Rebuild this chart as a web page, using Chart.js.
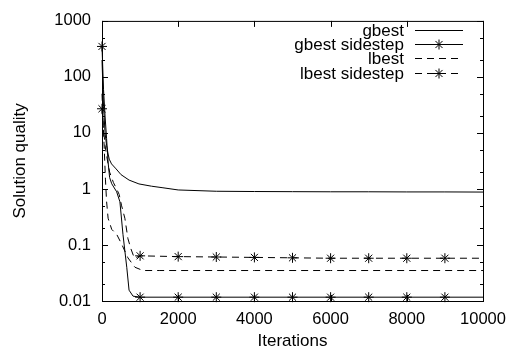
<!DOCTYPE html>
<html>
<head>
<meta charset="utf-8">
<script src="https://cdn.jsdelivr.net/npm/chart.js@4"></script>
<style>
  html, body { margin: 0; padding: 0; background: #fff; }
  #wrap { width: 515px; height: 352px; }
</style>
</head>
<body>
<div id="wrap"><canvas id="chart" width="515" height="352"></canvas></div>
<script>
// Data
const gbestIter = [0, 40, 80, 120, 160, 190, 250, 370, 500, 710, 970, 1300, 1600, 2000, 3000, 4000, 5000, 6000, 7000, 8000, 9000, 10000];
const gbestVals = [200, 30, 10, 6, 4.2, 3.4, 2.8, 2.28, 1.8, 1.44, 1.23, 1.12, 1.05, 0.96, 0.91, 0.9, 0.895, 0.89, 0.89, 0.885, 0.885, 0.88];

const gbestSideIter = [0, 40, 80, 120, 160, 200, 255, 385, 470, 550, 650, 710, 815, 1000, 2000, 3000, 4000, 5000, 6000, 7000, 8000, 9000, 10000];
const gbestSideVals = [350, 60, 20, 8, 3, 1.6, 1.24, 0.89, 0.59, 0.155, 0.04, 0.0156, 0.0122, 0.0117, 0.0117, 0.0117, 0.0117, 0.0117, 0.0117, 0.0117, 0.0117, 0.0117, 0.0117];

const lbestIter = [0, 30, 60, 90, 120, 160, 255, 385, 515, 680, 865, 1075, 1500, 2000, 4000, 6000, 8000, 10000];
const lbestVals = [50, 15, 5, 1.5, 0.6, 0.3, 0.19, 0.155, 0.104, 0.059, 0.04, 0.035, 0.035, 0.035, 0.035, 0.035, 0.035, 0.035];

const lbestSideIter = [0, 40, 80, 120, 160, 200, 300, 385, 450, 515, 600, 680, 760, 850, 1000, 2000, 3000, 4000, 5000, 6000, 7000, 8000, 9000, 10000];
const lbestSideVals = [27, 12, 6, 4, 2.8, 2.0, 1.3, 1.0, 0.8, 0.5, 0.3, 0.13, 0.085, 0.058, 0.064, 0.062, 0.061, 0.06, 0.059, 0.058, 0.058, 0.058, 0.058, 0.058];

const seriesNames = ['gbest', 'gbest sidestep', 'lbest', 'lbest sidestep'];
const xTicks = [0, 2000, 4000, 6000, 8000, 10000];
const xTickLabels = ['0', '2000', '4000', '6000', '8000', '10000'];
const yTicks = [0.01, 0.1, 1, 10, 100, 1000];
const yTickLabels = ['0.01', '0.1', '1', '10', '100', '1000'];

const FONT = "'Liberation Sans', Arial, sans-serif";
const AREA = { left: 102, right: 483, top: 16, bottom: 301 };

function pts(xs, ys) {
    return xs.map((x, i) => ({ x, y: ys[i] }));
}

// markers every 1000 iterations, not on the right edge
function markerRadius(ctx) {
    const p = ctx.raw;
    return p && p.x % 1000 === 0 && p.x < 10000 ? 5 : 0;
}

function makeSet(label, data, dashed, marker) {
    return {
        label,
        data,
        borderColor: '#000',
        borderWidth: 1,
        borderDash: dashed ? [7, 5] : [],
        pointStyle: 'star',
        pointRadius: marker ? markerRadius : 0,
        pointBorderColor: '#000',
        pointBorderWidth: 1,
        pointBackgroundColor: '#000',
        hasMarker: marker,
        tension: 0,
        clip: false
    };
}

// frame + inward ticks like gnuplot
const framePlugin = {
    id: 'frame',
    afterDraw(chart) {
        const { ctx, chartArea: a, scales } = chart;
        ctx.save();
        ctx.strokeStyle = '#000';
        ctx.lineWidth = 1;
        ctx.strokeRect(a.left + 0.5, a.top + 0.5, a.right - a.left, a.bottom - a.top);
        ctx.beginPath();
        xTicks.forEach(v => {
            const px = Math.round(scales.x.getPixelForValue(v)) + 0.5;
            ctx.moveTo(px, a.bottom); ctx.lineTo(px, a.bottom - 6);
            ctx.moveTo(px, a.top); ctx.lineTo(px, a.top + 6);
        });
        for (let d = -2; d <= 3; d++) {
            [1, 2, 5].forEach(m => {
                const v = m * Math.pow(10, d);
                if (v > 1000) return;
                const len = m === 1 ? 6 : 3;
                const py = Math.round(scales.y.getPixelForValue(v)) + 0.5;
                ctx.moveTo(a.left, py); ctx.lineTo(a.left + len, py);
                ctx.moveTo(a.right, py); ctx.lineTo(a.right - len, py);
            });
        }
        ctx.stroke();
        ctx.restore();
    }
};

// legend inside the top right, text right aligned, sample on the right
const keyPlugin = {
    id: 'key',
    afterDatasetsDraw(chart) {
        const { ctx } = chart;
        ctx.save();
        ctx.font = '17px ' + FONT;
        ctx.fillStyle = '#000';
        ctx.textAlign = 'right';
        ctx.textBaseline = 'middle';
        chart.data.datasets.forEach((ds, i) => {
            const y = Math.round(30 + i * 14.2) + 0.5;
            ctx.fillText(ds.label, 404, y + 1);
            ctx.strokeStyle = '#000';
            ctx.lineWidth = 1;
            ctx.setLineDash(ds.borderDash);
            ctx.beginPath();
            ctx.moveTo(415, y); ctx.lineTo(463, y);
            ctx.stroke();
            ctx.setLineDash([]);
            if (ds.hasMarker) {
                Chart.helpers.drawPoint(ctx, { pointStyle: 'star', radius: 5, borderWidth: 1 }, 439, y);
            }
        });
        ctx.restore();
    }
};

new Chart(document.getElementById('chart'), {
    type: 'line',
    data: {
        datasets: [
            makeSet(seriesNames[0], pts(gbestIter, gbestVals), false, false),
            makeSet(seriesNames[1], pts(gbestSideIter, gbestSideVals), false, true),
            makeSet(seriesNames[2], pts(lbestIter, lbestVals), true, false),
            makeSet(seriesNames[3], pts(lbestSideIter, lbestSideVals), true, true)
        ]
    },
    options: {
        responsive: false,
        animation: false,
        layout: { padding: { left: 0, top: AREA.top, right: 515 - AREA.right, bottom: 0 } },
        plugins: { legend: { display: false }, tooltip: { enabled: false } },
        scales: {
            x: {
                type: 'linear',
                min: 0,
                max: 10000,
                afterBuildTicks: s => { s.ticks = xTicks.map(v => ({ value: v })); },
                afterFit: s => { s.height = 352 - AREA.bottom; },
                grid: { display: false, drawTicks: false },
                border: { display: false },
                ticks: {
                    color: '#000',
                    font: { family: FONT, size: 16.5 },
                    padding: 9,
                    maxRotation: 0,
                    callback: v => xTickLabels[xTicks.indexOf(v)]
                },
                title: { display: true, text: 'Iterations', color: '#000', font: { family: FONT, size: 17 }, padding: { top: 0, bottom: 0 } }
            },
            y: {
                type: 'logarithmic',
                min: 0.01,
                max: 1000,
                afterBuildTicks: s => { s.ticks = yTicks.map(v => ({ value: v })); },
                afterFit: s => { s.width = AREA.left; },
                grid: { display: false, drawTicks: false },
                border: { display: false },
                ticks: {
                    color: '#000',
                    font: { family: FONT, size: 16.5 },
                    padding: 11,
                    callback: v => yTickLabels[yTicks.indexOf(v)]
                },
                title: { display: true, text: 'Solution quality', color: '#000', font: { family: FONT, size: 17 }, padding: { top: 10, bottom: 0 } }
            }
        }
    },
    plugins: [framePlugin, keyPlugin]
});
</script>
</body>
</html>
